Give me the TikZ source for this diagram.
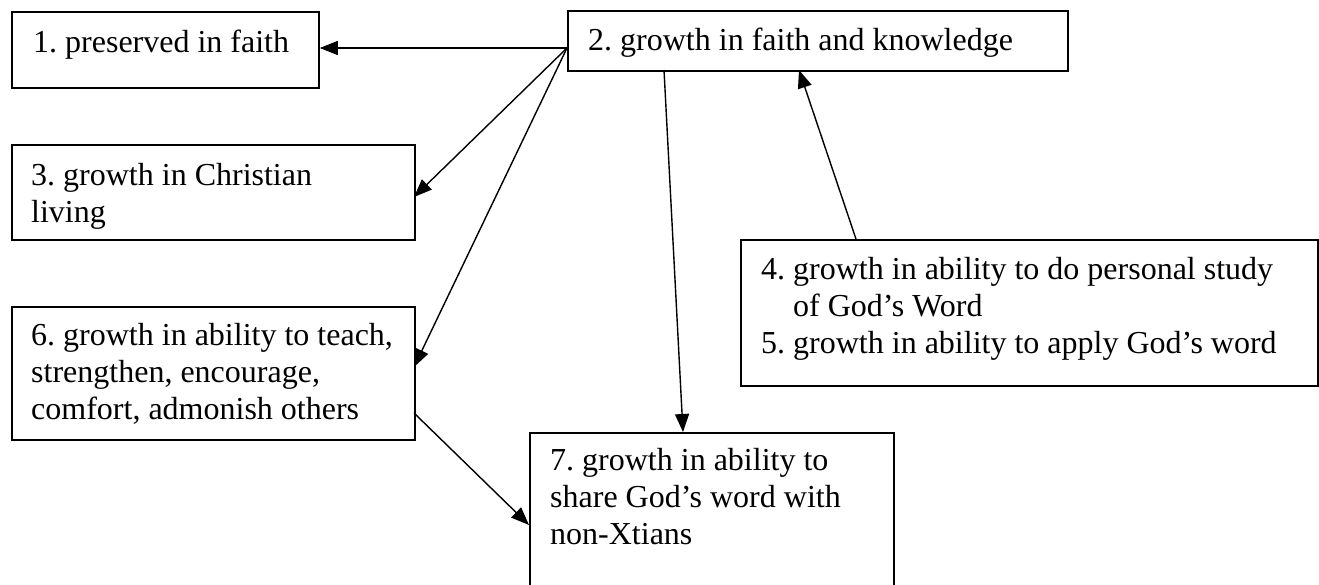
\documentclass[tikz,border=0pt]{standalone}
\usepackage{fontspec}
\setmainfont{Liberation Serif}
\frenchspacing
\usetikzlibrary{arrows.meta}
\tikzset{
  box/.style={draw=black, line width=1.8pt, rectangle, inner sep=0pt, anchor=north west},
  txt/.style={inner sep=0pt, anchor=base west, font=\fontsize{32}{37}\selectfont},
  arr/.style={draw=black, line width=1.4pt, -{Triangle[length=18pt,width=14pt]}},
}
\newcommand{\lines}[1]{\begin{tabular}[t]{@{}l@{}}#1\end{tabular}}
\begin{document}
\begin{tikzpicture}[x=1pt,y=-1pt]
\useasboundingbox (0,0) rectangle (1319,584);
\clip (0,0) rectangle (1319,584);
\fill[white] (0,0) rectangle (1319,584);
% boxes
\node[box, minimum width=307pt, minimum height=76pt] (b1) at (11,11) {};
\node[box, minimum width=500pt, minimum height=60pt] (b2) at (567,10) {};
\node[box, minimum width=403pt, minimum height=95pt] (b3) at (11,144) {};
\node[box, minimum width=577pt, minimum height=146pt] (b45) at (740,239) {};
\node[box, minimum width=403pt, minimum height=133pt] (b6) at (11,306) {};
\node[box, minimum width=364pt, minimum height=165pt] (b7) at (529,432) {};
% texts
\node[txt] (t1) at (33,52) {1. preserved in faith};
\node[txt] (t2) at (588,50) {2. growth in faith and knowledge};
\node[txt] (t3) at (31,185) {\lines{3. growth in Christian\\living}};
\node[txt] (t45) at (761,279) {\lines{4. growth in ability to do personal study\\\hphantom{4. }of God’s Word\\5. growth in ability to apply God’s word}};
\node[txt] (t6) at (31,345) {\lines{6. growth in ability to teach,\\strengthen, encourage,\\comfort, admonish others}};
\node[txt] (t7) at (550,470) {\lines{7. growth in ability to\\share God’s word with\\non-Xtians}};
% connector end points on the box borders
\coordinate (s2) at (567,48);
\coordinate (e3) at (414,197);
\coordinate (e6) at (414,367);
\coordinate (s2b) at (664,70);
\coordinate (e7t) at (683,432);
\coordinate (s45) at (856,239);
\coordinate (e2b) at (799,70);
\coordinate (s6) at (414,413);
\coordinate (e7l) at (529,525);
% connectors
\draw[arr] (s2) -- (b1.east |- s2);
\draw[arr] (s2) -- (e3);
\draw[arr] (s2) -- (e6);
\draw[arr] (s2b) -- (e7t);
\draw[arr] (s45) -- (e2b);
\draw[arr] (s6) -- (e7l);
\end{tikzpicture}
\end{document}
